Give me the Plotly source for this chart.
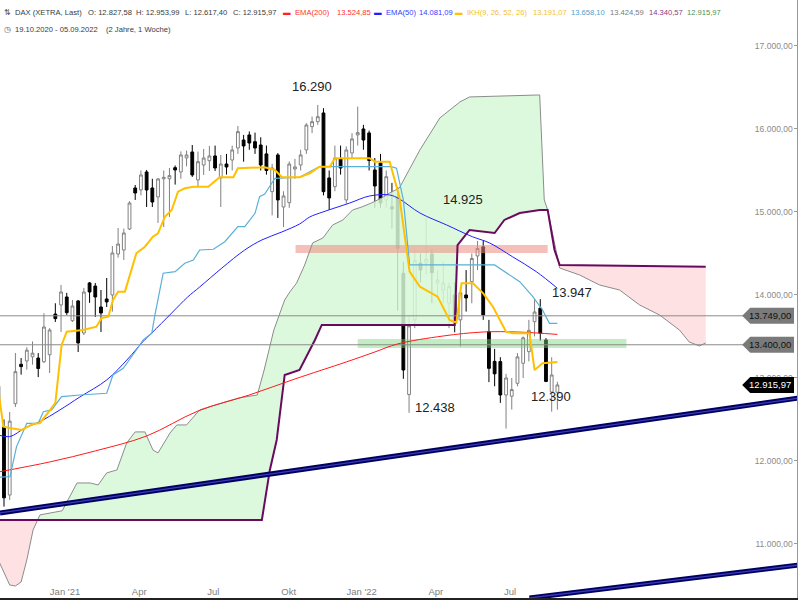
import numpy as np
import pandas as pd
import plotly.graph_objects as go

START = pd.Timestamp("2020-10-19")
dates = pd.date_range(START, periods=99, freq="7D")

opens = [12900, 12410, 11590, 12690, 13165, 13205, 13255, 13240, 13195, 13280,
         13770, 13880, 13976, 13690, 13928, 13542, 14145, 14108, 13855, 13952,
         14000, 14494, 14542, 14795, 15289, 15265, 15482, 15289, 15181, 15400,
         15400, 15534, 15482, 15651, 15723, 15386, 15566, 15618, 15675, 15410,
         15578, 15626, 15771, 15867, 15928, 15847, 15807, 15700, 15245, 15687,
         15060, 15112, 15518, 15566, 15747, 16028, 16088, 16193, 15410, 15305,
         15639, 15145, 15711, 15928, 16000, 15952, 15506, 15590, 15145, 15064,
         15185, 14261, 12800, 13700, 14385, 14385, 14494, 14145, 14060, 13900,
         14000, 13700, 14000, 14160, 14470, 14580, 13558, 13200, 13197, 12795,
         12780, 12936, 13177, 13317, 13678, 13840, 13458, 12831, 12827.58]
highs = [12950, 12500, 12590, 13300, 13240, 13370, 13440, 13300, 13780, 13600,
         13900, 14120, 14025, 13940, 13940, 14085, 14157, 14145, 14060, 14205,
         14590, 14807, 14800, 15130, 15325, 15500, 15506, 15400, 15410, 15500,
         15530, 15560, 15730, 15740, 15807, 15727, 15759, 15795, 15800, 15687,
         15700, 15800, 16036, 15928, 15970, 15956, 15900, 15800, 15580, 15710,
         15250, 15610, 15640, 15750, 16070, 16150, 16290, 16250, 15500, 15800,
         15800, 15790, 15950, 16270, 16050, 15980, 15650, 15700, 15500, 15350,
         15300, 14400, 13750, 14550, 14500, 14925, 14550, 14300, 14400, 14150,
         14150, 14100, 14300, 14500, 14650, 14650, 13700, 13350, 13250, 13050,
         13000, 13300, 13500, 13700, 13947, 13950, 13480, 13250, 12953.99]
lows = [12480, 11450, 11530, 12650, 13040, 13100, 13160, 13010, 13180, 13060,
        13675, 13555, 13760, 13675, 13313, 13518, 13905, 13735, 13554, 13855,
        13800, 14450, 14422, 14783, 15145, 15200, 15060, 15060, 14868, 14819,
        14940, 15330, 15400, 15550, 15422, 15305, 15446, 15494, 15494, 15060,
        15450, 15500, 15700, 15606, 15750, 15700, 15500, 15450, 14960, 14928,
        14818, 15050, 15400, 15500, 15700, 15950, 16050, 15200, 15024, 15250,
        15450, 15100, 15650, 15800, 15750, 15500, 15050, 15050, 15050, 14800,
        13810, 12990, 12580, 13600, 14150, 14250, 13900, 13950, 13900, 13600,
        13550, 13380, 13800, 13900, 14300, 13700, 12950, 12900, 12700, 12390,
        12620, 12900, 13000, 13200, 13500, 13450, 12950, 12594, 12617.40]
closes = [12646, 11556, 12480, 13076, 13137, 13335, 13299, 13114, 13614, 13578,
          13715, 14036, 13787, 13867, 13422, 14036, 14036, 13976, 13783, 13916,
          14506, 14614, 14747, 15108, 15229, 15446, 15265, 15120, 15398, 15417,
          15438, 15506, 15687, 15687, 15446, 15606, 15650, 15675, 15530, 15578,
          15542, 15747, 15968, 15795, 15831, 15771, 15566, 15500, 15530, 15145,
          15193, 15578, 15543, 15687, 16048, 16088, 16148, 15245, 15169, 15650,
          15530, 15747, 15880, 15956, 15867, 15620, 15313, 15108, 15425, 15036,
          14562, 13096, 13628, 14413, 14301, 14433, 14269, 14181, 14145, 14100,
          13659, 14027, 13964, 14440, 14560, 13760, 13116, 13050, 12795, 13000,
          12860, 13254, 13484, 13574, 13795, 13538, 12958, 13036, 12915.97]

# indicator series: (week offset from 19.10.2020, value)
ema200_w = [0, 9, 17, 26, 35, 44, 52, 61, 66, 70, 78, 85, 91, 98]
ema200_v = [11867, 11988, 12121, 12301, 12602, 12795, 12988, 13193, 13313, 13410,
            13506, 13554, 13554, 13525]
ema50_w = [0, 2, 4.7, 7.3, 10.8, 14.3, 19, 22.7, 25.3, 26.9, 30.4, 33.2, 35.3, 39.2,
           43.2, 46.2, 49.7, 52.8, 54.6, 56.9, 61.6, 65.1, 68.6, 70.3, 73.9, 78.6,
           83.1, 86.1, 90.1, 94.3, 98]
ema50_v = [12313, 12293, 12398, 12474, 12615, 12771, 12976, 13229, 13434, 13542,
           13783, 13976, 14096, 14325, 14542, 14663, 14759, 14855, 14940, 15000,
           15108, 15193, 15205, 15157, 14988, 14843, 14702, 14627, 14462, 14281, 14081]
tenkan_w = [0, 0.9, 2.05, 4.1, 6.1, 7.3, 9.1, 10, 11.1, 12, 14.8, 17.2, 18.1, 19.3,
            20.1, 21, 22.2, 24.2, 25.7, 27.1, 28, 29.2, 30.4, 31.5, 32.7, 34.2, 36.8,
            38.8, 41.2, 42, 46.7, 48.5, 49.7, 52.8, 54.6, 56.3, 58.1, 59, 65.1, 66,
            68.6, 70.3, 72.1, 73.9, 77, 79.1, 80.3, 81.2, 83.2, 85, 86.7, 89, 90.2,
            93.1, 94, 95.4, 98]
tenkan_v = [12855, 12413, 12398, 12374, 12446, 12458, 12615, 12699, 13398, 13558,
            13578, 13618, 13723, 13739, 13940, 14040, 14040, 14502, 14582, 14702,
            14743, 14943, 15024, 15245, 15286, 15305, 15305, 15418, 15418, 15527,
            15539, 15506, 15418, 15418, 15466, 15546, 15546, 15647, 15647, 15606,
            15606, 15185, 14281, 14100, 13980, 13699, 13667, 14141, 14141, 14020,
            13859, 13558, 13538, 13538, 13096, 13177, 13191]
kijun_w = [0, 2.05, 3.2, 5, 7, 7.9, 9.35, 11.1, 14.3, 19, 20.1, 21.9, 24.2, 25.4,
           26.9, 27.4, 28.9, 31, 32.7, 34.2, 35.3, 37.7, 39.7, 42, 43.2, 45, 45.8,
           46.7, 48.5, 52.8, 56.3, 68.9, 69.8, 71, 72.1, 87, 91.4, 93.7, 95.4, 96.6, 98]
kijun_v = [11804, 11811, 12173, 12454, 12454, 12594, 12615, 12775, 12795, 12816,
           13036, 13117, 13337, 13458, 13538, 13739, 14262, 14281, 14382, 14422,
           14542, 14551, 14642, 14823, 14823, 14984, 15184, 15217, 15406, 15418,
           15546, 15546, 15527, 15145, 14362, 14362, 14160, 13980, 13819, 13659, 13658]
spanA_w = [0, 2, 3, 4, 5, 6.1, 7.3, 11.2, 13.8, 16.1, 17.5, 19, 20.8, 22.5, 24,
           25.7, 27.1, 28, 30.1, 31.3, 33, 35.3, 38, 42.2, 45.4, 46.6, 48.3, 50.2, 51.1,
           52.3, 53.7, 55.1, 56.9, 58.6, 60.4, 62.1, 63.7, 65.4, 67.2, 68.6, 70.3,
           73.9, 77.4, 80.9, 82.6, 94.9, 95.7, 96.3, 98.4, 101.9, 105.4, 108.9,
           112.4, 115.9, 119.4, 121.1, 122.9, 124]
spanA_v = [10807, 10506, 10494, 10542, 10807, 11169, 11350, 11400, 11735,
           11735, 11711, 11856, 11892, 12217, 12350, 12350, 12133, 12097, 12337,
           12434, 12434, 12615, 12675, 12760, 12795, 13096, 13578, 13940, 14036, 14145,
           14361, 14627, 14687, 14843, 14904, 15024, 15060, 15108, 15169, 15229,
           15289, 15747, 16133, 16325, 16386, 16410, 15145, 15024, 14325, 14241,
           14120, 14060, 13880, 13759, 13578, 13434, 13386, 13422]
spanB_w = [0, 46.2, 47.6, 48.8, 50.2, 52.8, 55.5, 56.7, 80, 80.5, 82.6, 87,
           88.7, 91.4, 94.9, 96.3, 97.5, 98.4, 124]
spanB_v = [11289, 11289, 11892, 12253, 13036, 13096, 13458, 13639, 13639,
           14602, 14783, 14747, 14904, 14988, 15024, 15024, 14542, 14361, 14341]

hlines = [13749, 13400]
last_close = 12915.97
trend1_w, trend1_v = [0.3, 140.4], [11374, 12759]
trend2_w, trend2_v = [93.1, 140.4], [10349, 10747]
zone_red = dict(w=[52.1, 96.3], v=[14506, 14602])
zone_green = dict(w=[63.0, 110.1], v=[13362, 13470])
label_w = [54.9, 81.4, 100.5, 76.5, 96.8]
label_v = [16506, 15145, 14024, 12639, 12771]
label_t = ["16.290", "14.925", "13.947", "12.438", "12.390"]
tick_w = [11.7, 24.7, 37.7, 50.9, 63.7, 76.7, 89.7]
tick_t = ["Jan '21", "Apr", "Jul", "Okt", "Jan '22", "Apr", "Jul"]

# header pieces: (line, left pixel, text, colour)
header = [
    (1, 4, "⇅", "#555555"), (1, 15, "DAX (XETRA, Last)", "#3a3a3a"),
    (1, 88, "O: 12.827,58", "#3a3a3a"), (1, 137, "H: 12.953,99", "#3a3a3a"),
    (1, 186, "L: 12.617,40", "#3a3a3a"), (1, 234, "C: 12.915,97", "#3a3a3a"),
    (1, 284, "▬", "#ff2020"), (1, 296, "EMA(200)", "#ff3030"), (1, 338, "13.524,85", "#ff3030"),
    (1, 375, "▬", "#2020ff"), (1, 387, "EMA(50)", "#3a3aff"), (1, 421, "14.081,09", "#3a3aff"),
    (1, 457, "▬", "#ffc000"), (1, 469, "IKH(9, 26, 52, 26)", "#f5c030"), (1, 535, "13.191,07", "#f5c030"),
    (1, 573, "13.658,10", "#4aa0cc"), (1, 612, "13.424,59", "#7a7a7a"),
    (1, 651, "14.340,57", "#8a3a82"), (1, 690, "12.915,97", "#4d8f4d"),
    (2, 4, "◷", "#555555"), (2, 15, "19.10.2020 - 05.09.2022", "#3a3a3a"),
    (2, 106, "(2 Jahre, 1 Woche)", "#3a3a3a"),
]

FONT = "Liberation Sans, Arial"
PX = (17554 - 10349) / 598.0   # price units per pixel (for tag shapes)


def wk(w):
    return START + pd.to_timedelta(np.asarray(w, dtype=float) * 7, unit="D")


def de(v):
    return f"{v:,.2f}".replace(",", "X").replace(".", ",").replace("X", ".")


fig = go.Figure()

# ---- cloud fill ----
ga = np.array(spanA_w, float)
gb = np.array(spanB_w, float)
grid = np.unique(np.concatenate([ga, gb]))
a = np.interp(grid, ga, spanA_v)
b = np.interp(grid, gb, spanB_v)
gx, av, bv = [grid[0]], [a[0]], [b[0]]
for k in range(1, len(grid)):
    d0, d1 = a[k - 1] - b[k - 1], a[k] - b[k]
    if d0 * d1 < 0:
        t = d0 / (d0 - d1)
        xc = grid[k - 1] + t * (grid[k] - grid[k - 1])
        yc = a[k - 1] + t * (a[k] - a[k - 1])
        gx.append(xc); av.append(yc); bv.append(yc)
    gx.append(grid[k]); av.append(a[k]); bv.append(b[k])
gx = wk(gx); av = np.array(av); bv = np.array(bv)
top = np.maximum(av, bv)
fig.add_trace(go.Scatter(x=gx, y=bv, mode="lines", line=dict(width=0), hoverinfo="skip"))
fig.add_trace(go.Scatter(x=gx, y=top, mode="lines", line=dict(width=0), fill="tonexty",
                         fillcolor="rgba(215,248,215,0.85)", hoverinfo="skip"))
fig.add_trace(go.Scatter(x=gx, y=av, mode="lines", line=dict(width=0), hoverinfo="skip"))
fig.add_trace(go.Scatter(x=gx, y=top, mode="lines", line=dict(width=0), fill="tonexty",
                         fillcolor="rgba(253,222,224,0.9)", hoverinfo="skip"))

# zones
for z, col in [(zone_red, "rgba(236,140,128,0.55)"), (zone_green, "rgba(120,215,120,0.45)")]:
    w0, w1 = z["w"]; v0, v1 = z["v"]
    fig.add_trace(go.Scatter(x=wk([w0, w1, w1, w0, w0]), y=[v0, v0, v1, v1, v0], mode="lines",
                             line=dict(width=0), fill="toself", fillcolor=col, hoverinfo="skip"))

# span lines
fig.add_trace(go.Scatter(x=wk(spanA_w), y=spanA_v, mode="lines", line=dict(color="#8c8c8c", width=1)))
fig.add_trace(go.Scatter(x=wk(spanB_w), y=spanB_v, mode="lines", line=dict(color="#6a0a5e", width=2)))

# horizontal lines
for h in hlines:
    fig.add_trace(go.Scatter(x=wk([0.2, 131.9]), y=[h, h], mode="lines", line=dict(color="#8a8a8a", width=1)))

# EMAs / IKH
fig.add_trace(go.Scatter(x=wk(ema200_w), y=ema200_v, mode="lines", line=dict(color="#ff1a1a", width=1, shape="spline")))
fig.add_trace(go.Scatter(x=wk(ema50_w), y=ema50_v, mode="lines", line=dict(color="#2020ff", width=1, shape="spline")))
fig.add_trace(go.Scatter(x=wk(kijun_w), y=kijun_v, mode="lines", line=dict(color="#5aafd8", width=1.2)))
fig.add_trace(go.Scatter(x=wk(tenkan_w), y=tenkan_v, mode="lines", line=dict(color="#ffc000", width=2)))

# candles
fig.add_trace(go.Candlestick(x=dates, open=opens, high=highs, low=lows, close=closes,
                             increasing=dict(line=dict(color="#808080", width=1), fillcolor="white"),
                             decreasing=dict(line=dict(color="#000000", width=1), fillcolor="black"),
                             whiskerwidth=0))

# trend lines
for tw, tv in [(trend1_w, trend1_v), (trend2_w, trend2_v)]:
    fig.add_trace(go.Scatter(x=wk(tw), y=tv, mode="lines", line=dict(color="#000060", width=5)))
    fig.add_trace(go.Scatter(x=wk(tw), y=tv, mode="lines", line=dict(color="#3a3ab8", width=1.3)))

annotations = []
shapes = []
for w, v, t in zip(label_w, label_v, label_t):
    annotations.append(dict(x=wk([w])[0], y=v, text=t, showarrow=False, xref="x", yref="y",
                            font=dict(size=13, color="#222222", family=FONT)))

# value tags on right (pentagon pointing left)
x_tip, x_l, x_r = 745 / 800, 753 / 800, 797 / 800
for h, bg, fc in [(hlines[0], "#7a7a7a", "#111111"), (hlines[1], "#7a7a7a", "#111111"), (last_close, "#000000", "#ffffff")]:
    hh = 8 * PX
    shapes.append(dict(type="path", xref="paper", yref="y", layer="above",
                       path=f"M {x_tip},{h} L {x_l},{h + hh} L {x_r},{h + hh} L {x_r},{h - hh} L {x_l},{h - hh} Z",
                       fillcolor=bg, line=dict(width=0)))
    annotations.append(dict(x=(x_l + x_r) / 2 - 0.002, y=h, xref="paper", yref="y", text=de(h), showarrow=False,
                            xanchor="center", yanchor="middle",
                            font=dict(size=9.5, color=fc, family=FONT)))

# header text pieces
for line, px, txt, col in header:
    yy = 1 - (13 if line == 1 else 30) / 598
    annotations.append(dict(x=px / 800, y=yy, xref="paper", yref="paper", text=txt, showarrow=False,
                            xanchor="left", yanchor="middle", borderpad=0, borderwidth=0,
                            font=dict(size=7.6, color=col, family=FONT)))

fig.update_layout(
    width=800, height=600, margin=dict(l=0, r=3, t=0, b=2),
    paper_bgcolor="white", plot_bgcolor="white", showlegend=False,
    separators=",.", annotations=annotations, shapes=shapes,
    xaxis=dict(type="date", range=[wk([0.3])[0], wk([140.0])[0]], rangeslider=dict(visible=False),
               showgrid=False, zeroline=False, tickvals=wk(tick_w), ticktext=tick_t,
               ticklabelposition="inside", ticks="", showline=True, linecolor="#222", linewidth=2,
               tickfont=dict(size=9.5, color="#808080", family=FONT)),
    yaxis=dict(side="right", range=[10349, 17554], showgrid=False, zeroline=False,
               tickvals=[11000, 12000, 13000, 14000, 15000, 16000, 17000], tickformat=",.2f",
               ticklabelposition="inside", ticks="inside", ticklen=3, tickcolor="#999",
               showline=True, linecolor="#999", linewidth=1,
               tickfont=dict(size=8.5, color="#8a8a8a", family=FONT)),
)
fig.write_html("out.html", config={"displayModeBar": False},
               post_script="document.body.style.margin='0px';document.body.style.overflow='hidden';")
